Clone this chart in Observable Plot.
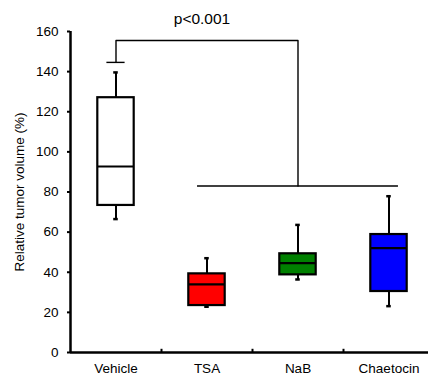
<!DOCTYPE html>
<html><head><meta charset="utf-8">
<script src="https://cdn.jsdelivr.net/npm/d3@7"></script>
<script src="https://cdn.jsdelivr.net/npm/@observablehq/plot@0.6"></script>
<style>body{margin:0;background:#fff} svg{display:block}</style>
</head><body><div id="chart"></div>
<script>
const groups = ["Vehicle", "TSA", "NaB", "Chaetocin"];
const colors = ["#ffffff", "#ff0000", "#008000", "#0000ff"];
const whiskerLow = [66.5, 22.8, 36.4, 23.1];
const q1 = [73.3, 23.4, 38.7, 30.4];
const median = [92.7, 34.0, 44.5, 52.0];
const q3 = [127.0, 39.2, 49.2, 58.8];
const whiskerHigh = [139.6, 47.0, 63.6, 77.9];
const yTicks = [0, 20, 40, 60, 80, 100, 120, 140, 160];
const yLabel = "Relative tumor volume (%)";
const pLabel = "p<0.001";
const bracketCap = 144.6, bracketTop = 155.5, bracketLow = 83, pLabelY = 166;
const bracketFrom = 0, bracketTo = 2;        // Vehicle -> NaB
const spanFrom = 1, spanTo = 3;              // TSA .. Chaetocin

const half = 0.2;
const data = groups.map((g, i) => ({i, g, color: colors[i], lo: whiskerLow[i], q1: q1[i], med: median[i], q3: q3[i], hi: whiskerHigh[i]}));

const chart = Plot.plot({
  width: 428, height: 375,
  marginLeft: 70, marginRight: 0, marginTop: 31, marginBottom: 23,
  style: {fontFamily: "'Liberation Sans', Arial, sans-serif", fontSize: "13.5px", background: "#fff"},
  x: {domain: [-0.5, 3.5], range: [70, 434]},
  y: {domain: [0, 160]},
  marks: [
    Plot.ruleX(data, {x: "i", y1: "lo", y2: "q1", strokeWidth: 2}),
    Plot.ruleX(data, {x: "i", y1: "q3", y2: "hi", strokeWidth: 2}),
    Plot.ruleY(data, {x1: d => d.i - 0.025, x2: d => d.i + 0.025, y: "lo", strokeWidth: 2.5}),
    Plot.ruleY(data, {x1: d => d.i - 0.025, x2: d => d.i + 0.025, y: "hi", strokeWidth: 2.5}),
    Plot.rectY(data, {x1: d => d.i - half, x2: d => d.i + half, y1: "q1", y2: "q3", fill: "color", stroke: "black", strokeWidth: 2.2}),
    Plot.ruleY(data, {x1: d => d.i - half, x2: d => d.i + half, y: "med", strokeWidth: 2.2}),
    // significance bracket
    Plot.ruleY([bracketCap], {x1: bracketFrom - 0.1, x2: bracketFrom + 0.1, strokeWidth: 1.4}),
    Plot.line([
      {x: bracketFrom, y: bracketCap}, {x: bracketFrom, y: bracketTop},
      {x: bracketTo, y: bracketTop}, {x: bracketTo, y: bracketLow}
    ], {x: "x", y: "y", strokeWidth: 1.4}),
    Plot.ruleY([bracketLow], {x1: spanFrom - 0.104, x2: spanTo + 0.104, strokeWidth: 1.4}),
    Plot.text([pLabel], {x: (bracketFrom + bracketTo) / 2, y: pLabelY, dx: -5, fontSize: 15.5, fill: "black"}),
    // axes
    Plot.axisY({ticks: yTicks, tickSize: 3, tickPadding: 9, fontSize: 13.5, strokeWidth: 2,
      label: yLabel, labelArrow: "none", labelAnchor: "center", labelOffset: 56}),
    Plot.axisX({ticks: [0, 1, 2, 3], tickFormat: i => groups[i], tickSize: 0, tickPadding: 11, fontSize: 13.5, label: null}),
    Plot.ruleX([0.5, 1.5, 2.5], {y1: 0, y2: 1.6, strokeWidth: 2}),
    Plot.ruleX([-0.5], {strokeWidth: 2.5}),
    Plot.ruleY([0], {strokeWidth: 2.5})
  ]
});
document.getElementById("chart").appendChild(chart);
</script>
</body></html>
